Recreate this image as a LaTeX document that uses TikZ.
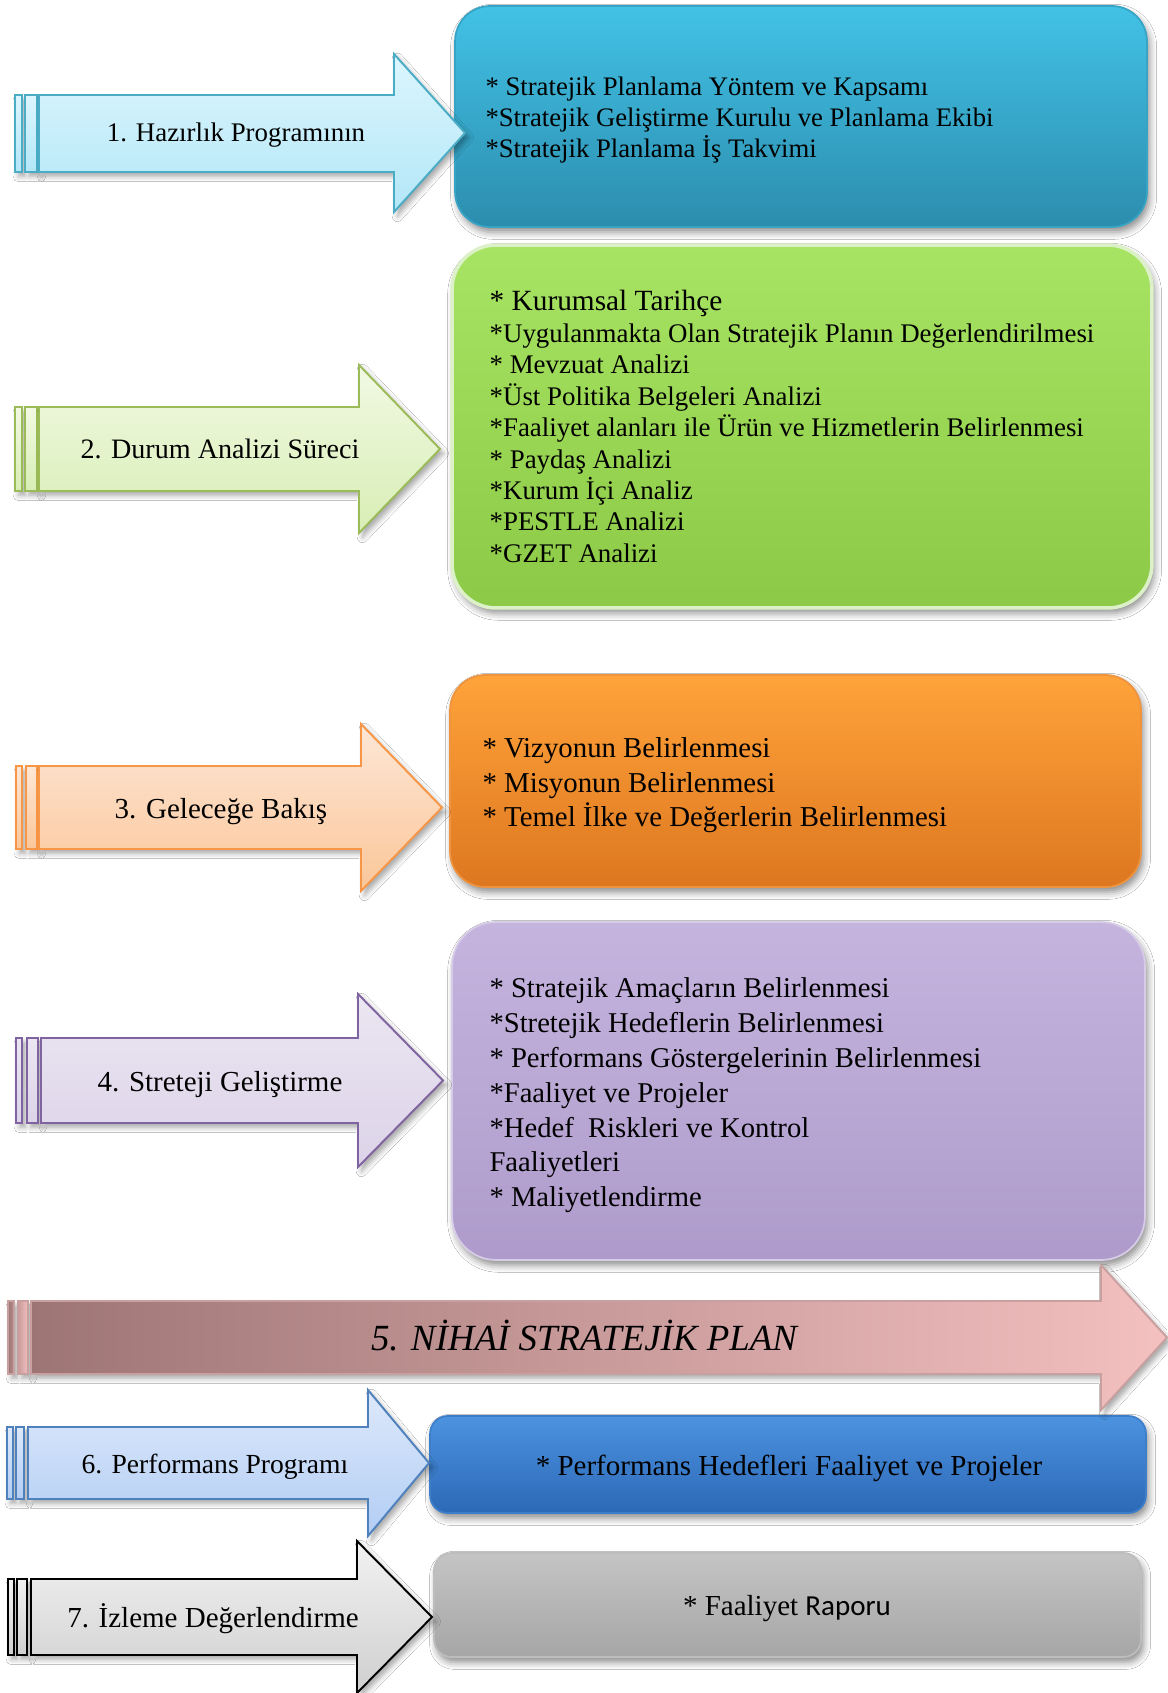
\documentclass[tikz,border=0pt]{standalone}
\usepackage{fontspec}
\setmainfont{Liberation Serif}
\newfontfamily\rapfont{Carlito}
\usepackage{xcolor}
\usepackage{tikz}
\usetikzlibrary{positioning,shadows.blur}
\definecolor{tophaz}{HTML}{42C2E6}
\definecolor{bothaz}{HTML}{2C8DAE}
\definecolor{rimhaz}{HTML}{37A4C6}
\definecolor{topdur}{HTML}{A8E463}
\definecolor{botdur}{HTML}{8BC946}
\definecolor{rimdur}{HTML}{DDF1C8}
\definecolor{topgel}{HTML}{FFA33A}
\definecolor{botgel}{HTML}{DD7720}
\definecolor{rimgel}{HTML}{EE9440}
\definecolor{topstr}{HTML}{C5B4DE}
\definecolor{botstr}{HTML}{AE9BCB}
\definecolor{rimstr}{HTML}{D7CCE8}
\definecolor{topper}{HTML}{4C93E0}
\definecolor{botper}{HTML}{2C68B6}
\definecolor{rimper}{HTML}{3D7ECB}
\definecolor{topizl}{HTML}{C4C4C4}
\definecolor{botizl}{HTML}{A6A6A6}
\definecolor{rimizl}{HTML}{BDBDBD}
\definecolor{linehaz}{HTML}{4BACC6}
\definecolor{litehaz}{HTML}{DCF6FE}
\definecolor{darkhaz}{HTML}{B3E7F7}
\definecolor{linedur}{HTML}{9BBB59}
\definecolor{litedur}{HTML}{F1F9E3}
\definecolor{darkdur}{HTML}{D8EEB5}
\definecolor{linegel}{HTML}{F79646}
\definecolor{litegel}{HTML}{FDE7D6}
\definecolor{darkgel}{HTML}{FBC699}
\definecolor{linestr}{HTML}{8064A2}
\definecolor{litestr}{HTML}{EBE6F2}
\definecolor{darkstr}{HTML}{DCD3E8}
\definecolor{linenih}{HTML}{C9A0A0}
\definecolor{leftnih}{HTML}{9E7575}
\definecolor{rightnih}{HTML}{F4C0C0}
\definecolor{lineper}{HTML}{4F81BD}
\definecolor{liteper}{HTML}{DDE9FB}
\definecolor{darkper}{HTML}{B2CDF4}
\definecolor{lineizl}{HTML}{000000}
\definecolor{liteizl}{HTML}{F2F2F2}
\definecolor{darkizl}{HTML}{CFCFCF}
\tikzset{
  steparr/.style={line width=1.1pt, line join=miter,
    blur shadow={shadow xshift=2pt, shadow yshift=-2.5pt, shadow blur radius=3pt, shadow opacity=35}},
  arrhaz/.style={steparr, draw=linehaz, top color=litehaz, bottom color=darkhaz},
  arrdur/.style={steparr, draw=linedur, top color=litedur, bottom color=darkdur},
  arrgel/.style={steparr, draw=linegel, top color=litegel, bottom color=darkgel},
  arrstr/.style={steparr, draw=linestr, top color=litestr, bottom color=darkstr},
  arrnih/.style={steparr, draw=linenih, left color=leftnih, right color=rightnih},
  arrper/.style={steparr, draw=lineper, top color=liteper, bottom color=darkper},
  arrizl/.style={steparr, draw=lineizl, top color=liteizl, bottom color=darkizl},
  stepbox/.style={rounded corners=20pt, line width=1pt, inner sep=0pt,
    blur shadow={shadow xshift=1.5pt, shadow yshift=-3pt, shadow blur radius=4pt, shadow opacity=45}},
  lbl/.style={font=\fontsize{16}{19}\selectfont, anchor=base, inner sep=0pt},
  boxtxt/.style={align=left, inner sep=0pt, anchor=west},
}
\begin{document}
\begin{tikzpicture}[x=0.02cm, y=-0.02cm]

\fill[white] (0,0) rectangle (1167,1693);
\useasboundingbox (0,0) rectangle (1167,1693);

\node[stepbox, draw=rimhaz, top color=tophaz, bottom color=bothaz, minimum width=13.84cm, minimum height=4.42cm] (box1) at (801,116.5) {};
\node[stepbox, draw=rimdur, line width=2pt, rounded corners=25pt, top color=topdur, bottom color=botdur, minimum width=14.0cm, minimum height=7.26cm] (box2) at (802,426.5) {};
\node[stepbox, draw=rimgel, top color=topgel, bottom color=botgel, minimum width=13.82cm, minimum height=4.24cm] (box3) at (795.5,781) {};
\node[stepbox, draw=rimstr, rounded corners=25pt, top color=topstr, bottom color=botstr, minimum width=13.86cm, minimum height=6.76cm] (box4) at (798.5,1091) {};
\node[stepbox, draw=rimper, rounded corners=10pt, top color=topper, bottom color=botper, minimum width=14.32cm, minimum height=1.94cm] (box6) at (788,1464.5) {};
\node[stepbox, draw=rimizl, rounded corners=10pt, top color=topizl, bottom color=botizl, minimum width=14.14cm, minimum height=2.08cm] (box7) at (787.5,1605) {};

\draw[arrhaz] (15,95) rectangle (22,172) (25,95) rectangle (37,172);
\draw[arrhaz] (39,95) -- (394,95) -- (394,54) -- (465,133) -- (394,212) -- (394,172) -- (39,172) -- cycle;
\draw[arrdur] (15,407) rectangle (22,491) (25,407) rectangle (37,491);
\draw[arrdur] (39,407) -- (359,407) -- (359,365) -- (440,449) -- (359,533) -- (359,491) -- (39,491) -- cycle;
\draw[arrgel] (16,766) rectangle (22,849) (26,766) rectangle (37,849);
\draw[arrgel] (39,766) -- (361,766) -- (361,724) -- (442,807.5) -- (361,891) -- (361,849) -- (39,849) -- cycle;
\draw[arrstr] (16,1038) rectangle (22,1123) (27,1038) rectangle (38,1123);
\draw[arrstr] (41,1038) -- (358,1038) -- (358,994) -- (443,1080.5) -- (358,1167) -- (358,1123) -- (41,1123) -- cycle;
\draw[arrnih] (8,1301) rectangle (14,1374) (18,1301) rectangle (28,1374);
\draw[arrnih] (31,1301) -- (1101,1301) -- (1101,1265) -- (1167,1337.5) -- (1101,1410) -- (1101,1374) -- (31,1374) -- cycle;
\draw[arrper] (7,1427) rectangle (13,1499) (16,1427) rectangle (24,1499);
\draw[arrper] (28,1427) -- (368,1427) -- (368,1390) -- (429,1463) -- (368,1536) -- (368,1499) -- (28,1499) -- cycle;
\draw[arrizl] (8,1579) rectangle (14,1655) (17,1579) rectangle (27,1655);
\draw[arrizl] (31,1579) -- (357,1579) -- (357,1541) -- (432,1617) -- (357,1693) -- (357,1655) -- (31,1655) -- cycle;

\node[lbl, font=\fontsize{15.3}{18}\selectfont] (lbl1) at (236,142) {1. Hazırlık Programının};
\node[lbl] (lbl2) at (220,458) {2. Durum Analizi Süreci};
\node[lbl, font=\fontsize{16.5}{19}\selectfont] (lbl3) at (221,818) {3. Geleceğe Bakış};
\node[lbl, font=\fontsize{16.5}{19}\selectfont] (lbl4) at (220,1091) {4. Streteji Geliştirme};
\node[lbl, font=\fontsize{21}{24}\selectfont\itshape] (lbl5) at (584,1350) {5. NİHAİ STRATEJİK PLAN};
\node[lbl, font=\fontsize{15.7}{19}\selectfont] (lbl6) at (215,1473) {6. Performans Programı};
\node[lbl, font=\fontsize{16.5}{19}\selectfont] (lbl7) at (213,1627) {7. İzleme Değerlendirme};

\node[boxtxt, font=\fontsize{15.2}{17.6}\selectfont, right=0.62cm of box1.west, yshift=-2.2pt] (txt1) {%
  * Stratejik Planlama Yöntem ve Kapsamı\\
  *Stratejik Geliştirme Kurulu ve Planlama Ekibi\\
  *Stratejik Planlama İş Takvimi};
\node[boxtxt, font=\fontsize{15.3}{17.9}\selectfont, right=0.78cm of box2.west] (txt2) {%
  {\fontsize{16.7}{17.9}\selectfont * Kurumsal Tarihçe}\\
  *Uygulanmakta Olan Stratejik Planın Değerlendirilmesi\\
  * Mevzuat Analizi\\
  *Üst Politika Belgeleri Analizi\\
  *Faaliyet alanları ile Ürün ve Hizmetlerin Belirlenmesi\\
  * Paydaş Analizi\\
  *Kurum İçi Analiz\\
  *PESTLE Analizi\\
  *GZET Analizi};
\node[boxtxt, font=\fontsize{16.4}{19.6}\selectfont, right=0.66cm of box3.west, yshift=-2.5pt] (txt3) {%
  * Vizyonun Belirlenmesi\\
  * Misyonun Belirlenmesi\\
  * Temel İlke ve Değerlerin Belirlenmesi};
\node[boxtxt, font=\fontsize{16.3}{19.8}\selectfont, right=0.76cm of box4.west, yshift=-2.5pt] (txt4) {%
  * Stratejik Amaçların Belirlenmesi\\
  *Stretejik Hedeflerin Belirlenmesi\\
  * Performans Göstergelerinin Belirlenmesi\\
  *Faaliyet ve Projeler\\
  *Hedef~ Riskleri ve Kontrol\\
  Faaliyetleri\\
  * Maliyetlendirme};
\node[lbl, font=\fontsize{16.5}{19}\selectfont] (txt6) at (789,1475) {* Performans Hedefleri Faaliyet ve Projeler};
\node[lbl, font=\fontsize{16.5}{19}\selectfont] (txt7) at (787,1615) {* Faaliyet {\rapfont Raporu}};

\end{tikzpicture}
\end{document}
